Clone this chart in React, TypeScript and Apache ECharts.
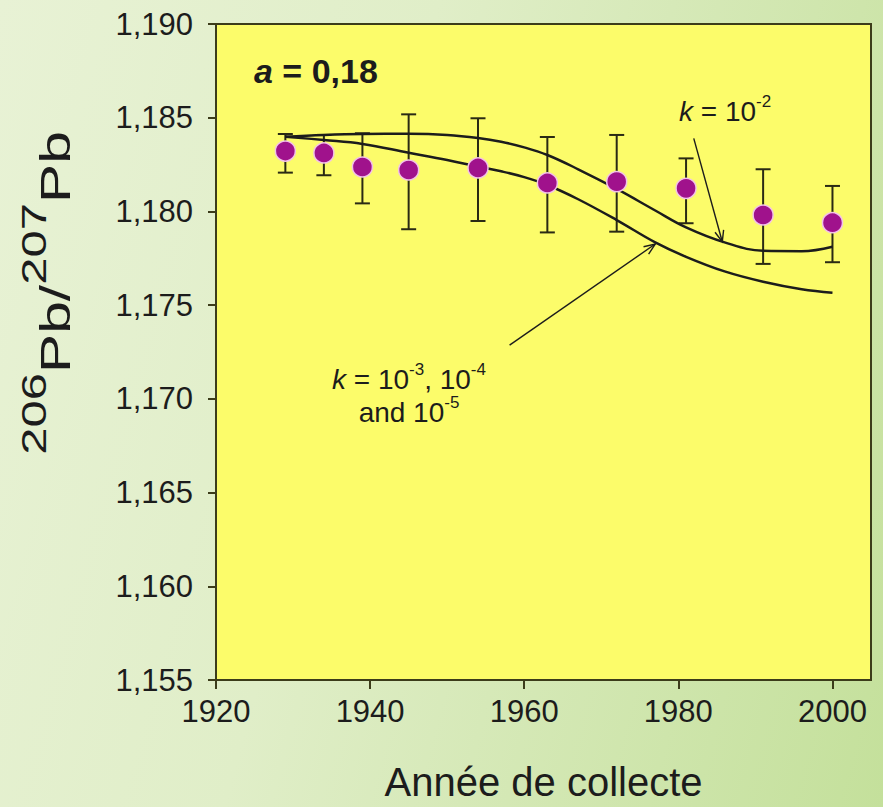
import React, { useEffect, useRef } from 'react';
import * as echarts from 'echarts';

// Measured samples (year of collection, 206Pb/207Pb ratio)
const years = [1929, 1934, 1939, 1945, 1954, 1963, 1972, 1981, 1991, 2000];
const ratio = [1.18322, 1.18312, 1.18237, 1.18221, 1.18232, 1.18152, 1.18159, 1.18123, 1.17981, 1.1794];
const errLow = [1.18207, 1.18193, 1.18043, 1.17905, 1.17949, 1.17888, 1.17892, 1.17937, 1.1772, 1.17729];
const errHigh = [1.18413, 1.18408, 1.18417, 1.18518, 1.18497, 1.18397, 1.18408, 1.18283, 1.18225, 1.18136];

// Model curves
const modelYears = [1929, 1934, 1939, 1945, 1950, 1954, 1957, 1960, 1963, 1967, 1972, 1977, 1981, 1986, 1991, 1996, 2000];
const curveK2 = [1.18399, 1.18408, 1.18413, 1.18414, 1.18408, 1.18392, 1.18372, 1.18342, 1.18301, 1.18225, 1.1812, 1.18005, 1.17915, 1.17835, 1.1779, 1.17788, 1.17812];
const curveK345 = [1.18399, 1.18381, 1.1836, 1.18313, 1.18274, 1.18239, 1.18214, 1.18183, 1.18141, 1.18065, 1.17954, 1.17835, 1.17758, 1.1768, 1.17625, 1.17585, 1.17566];

// Annotation arrows: [x1, y1, x2, y2] in data units
const arrowK2 = [1982.0, 1.1839, 1985.7, 1.17838];
const arrowK345 = [1958.1, 1.17287, 1977.0, 1.17826];

const xTicks = [1920, 1940, 1960, 1980, 2000];
const xMin = 1920;
const xMax = 2005;
const yMin = 1.155;
const yMax = 1.19;
const yStep = 0.005;

const INK = '#1c1c1c';
const FONT = '"Liberation Sans", Arial, sans-serif';

export default function App() {
  const ref = useRef<HTMLDivElement>(null);

  useEffect(() => {
    if (!ref.current) return;
    const chart = echarts.init(ref.current, undefined, { renderer: 'svg' });

    const errData = years.map((y, i) => [y, errLow[i], errHigh[i]]);
    const dotData = years.map((y, i) => [y, ratio[i]]);

    const kRich = {
      i: { fontSize: 28, fontStyle: 'italic', fontFamily: FONT, fill: INK, lineHeight: 32, verticalAlign: 'bottom' },
      n: { fontSize: 28, fontFamily: FONT, fill: INK, lineHeight: 32, verticalAlign: 'bottom' },
      s: { fontSize: 17, fontFamily: FONT, fill: INK, lineHeight: 19, verticalAlign: 'top' },
    };

    const option: any = {
      animation: false,
      backgroundColor: 'transparent',
      textStyle: { fontFamily: FONT },
      grid: {
        left: 216,
        right: 12,
        top: 24,
        bottom: 127,
        show: true,
        backgroundColor: '#fcfc6a',
        borderColor: '#3c3c1a',
        borderWidth: 2,
        containLabel: false,
        outerBoundsMode: 'none',
      },
      xAxis: {
        type: 'value',
        min: xMin,
        max: xMax,
        interval: 20,
        name: 'Année de collecte',
        nameLocation: 'middle',
        nameGap: 82,
        nameTextStyle: { fontSize: 40, color: INK, fontFamily: FONT, lineHeight: 40 },
        axisLine: { show: true, onZero: false, lineStyle: { color: '#3c3c1a', width: 2 } },
        axisTick: { show: true, inside: false, length: 9, lineStyle: { color: '#3c3c1a', width: 2 }, customValues: xTicks },
        axisLabel: {
          fontSize: 31,
          color: INK,
          margin: 16,
          fontFamily: FONT,
          customValues: xTicks,
          formatter: (v: number) => String(Math.round(v)),
        },
        splitLine: { show: false },
      },
      yAxis: {
        type: 'value',
        min: yMin,
        max: yMax,
        interval: yStep,
        axisLine: { show: true, onZero: false, lineStyle: { color: '#3c3c1a', width: 2 } },
        axisTick: { show: true, inside: false, length: 8, lineStyle: { color: '#3c3c1a', width: 2 } },
        axisLabel: {
          fontSize: 31,
          color: INK,
          margin: 23,
          fontFamily: FONT,
          formatter: (v: number) => v.toFixed(3).replace('.', ','),
        },
        splitLine: { show: false },
      },
      series: [
        {
          type: 'custom',
          name: 'errors',
          data: errData,
          encode: { x: 0, y: [1, 2] },
          z: 2,
          renderItem: (params: any, api: any) => {
            const x = api.value(0);
            const pLo = api.coord([x, api.value(1)]);
            const pHi = api.coord([x, api.value(2)]);
            const hw = 7.5;
            const st = { stroke: '#2a2a14', lineWidth: 2 };
            return {
              type: 'group',
              children: [
                { type: 'line', shape: { x1: pHi[0], y1: pHi[1], x2: pLo[0], y2: pLo[1] }, style: st },
                { type: 'line', shape: { x1: pHi[0] - hw, y1: pHi[1], x2: pHi[0] + hw, y2: pHi[1] }, style: st },
                { type: 'line', shape: { x1: pLo[0] - hw, y1: pLo[1], x2: pLo[0] + hw, y2: pLo[1] }, style: st },
              ],
            };
          },
        },
        {
          type: 'line',
          name: 'k = 10^-2',
          data: modelYears.map((y, i) => [y, curveK2[i]]),
          smooth: 0.4,
          showSymbol: false,
          symbol: 'none',
          z: 3,
          lineStyle: { color: INK, width: 2.5 },
        },
        {
          type: 'line',
          name: 'k = 10^-3, 10^-4, 10^-5',
          data: modelYears.map((y, i) => [y, curveK345[i]]),
          smooth: 0.4,
          showSymbol: false,
          symbol: 'none',
          z: 3,
          lineStyle: { color: INK, width: 2.5 },
        },
        {
          type: 'custom',
          name: 'arrows',
          data: [arrowK2, arrowK345],
          encode: { x: [0, 2], y: [1, 3] },
          z: 4,
          renderItem: (params: any, api: any) => {
            const p1 = api.coord([api.value(0), api.value(1)]);
            const p2 = api.coord([api.value(2), api.value(3)]);
            const ang = Math.atan2(p2[1] - p1[1], p2[0] - p1[0]);
            const L = 12;
            const W = 0.38;
            const a1 = [p2[0] - L * Math.cos(ang - W), p2[1] - L * Math.sin(ang - W)];
            const a2 = [p2[0] - L * Math.cos(ang + W), p2[1] - L * Math.sin(ang + W)];
            const st = { stroke: INK, lineWidth: 1.4, fill: null };
            return {
              type: 'group',
              children: [
                { type: 'line', shape: { x1: p1[0], y1: p1[1], x2: p2[0], y2: p2[1] }, style: st },
                { type: 'polyline', shape: { points: [a1, p2, a2] }, style: st },
              ],
            };
          },
        },
        {
          type: 'scatter',
          name: 'samples',
          data: dotData,
          symbol: 'circle',
          symbolSize: 20,
          z: 5,
          itemStyle: { color: '#a0128c', borderColor: '#f2c2e8', borderWidth: 1.5, opacity: 1 },
        },
      ],
      graphic: [
        {
          type: 'text',
          x: 45,
          y: 293,
          rotation: Math.PI / 2,
          scaleX: 1.4,
          z: 10,
          style: {
            text: '{s|206}{b|Pb/}{s|207}{b|Pb}',
            align: 'center',
            verticalAlign: 'middle',
            fill: INK,
            rich: {
              s: { fontSize: 35, fontFamily: FONT, fill: INK, padding: [0, 0, 22, 0] },
              b: { fontSize: 42, fontFamily: FONT, fill: INK, padding: [22, 0, 0, 0] },
            },
          },
        },
        {
          type: 'text',
          x: 254,
          y: 71,
          z: 10,
          style: {
            text: '{i|a}{n| = 0,18}',
            align: 'left',
            verticalAlign: 'middle',
            fill: INK,
            rich: {
              i: { fontSize: 34, fontWeight: 'bold', fontStyle: 'italic', fontFamily: FONT, fill: INK },
              n: { fontSize: 34, fontWeight: 'bold', fontFamily: FONT, fill: INK },
            },
          },
        },
        {
          type: 'text',
          x: 679,
          y: 109,
          z: 10,
          style: { text: '{i|k}{n| = 10}{s|-2}', align: 'left', verticalAlign: 'middle', fill: INK, rich: kRich },
        },
        {
          type: 'text',
          x: 409,
          y: 377,
          z: 10,
          style: { text: '{i|k}{n| = 10}{s|-3}{n|, 10}{s|-4}', align: 'center', verticalAlign: 'middle', fill: INK, rich: kRich },
        },
        {
          type: 'text',
          x: 409,
          y: 410,
          z: 10,
          style: { text: '{n|and 10}{s|-5}', align: 'center', verticalAlign: 'middle', fill: INK, rich: kRich },
        },
      ],
    };

    chart.setOption(option);
    return () => chart.dispose();
  }, []);

  return (
    <div
      style={{
        position: 'fixed',
        left: 0,
        top: 0,
        width: 883,
        height: 807,
        background: 'linear-gradient(105deg, #e8f2d5 0%, #e0eec8 40%, #c4e09b 100%)',
      }}
    >
      <div ref={ref} style={{ width: 883, height: 807 }} />
    </div>
  );
}
